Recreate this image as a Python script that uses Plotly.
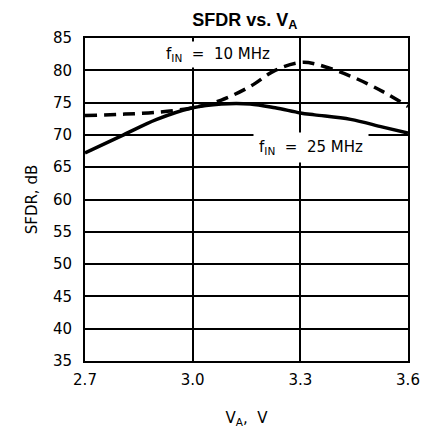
import plotly.graph_objects as go

# supply voltage, V
va = [2.70, 2.80, 2.90, 3.00, 3.08, 3.16, 3.23, 3.30, 3.34, 3.44, 3.53, 3.60]

# SFDR, dB
sfdr_10mhz = [73.0, 73.2, 73.5, 74.2, 75.4, 77.5, 80.0, 81.2, 81.0, 79.1, 76.7, 74.4]
sfdr_25mhz = [67.2, 69.8, 72.4, 74.2, 74.8, 74.8, 74.2, 73.4, 73.1, 72.4, 71.2, 70.3]

x_ticks = [2.7, 3.0, 3.3, 3.6]
y_ticks = [35, 40, 45, 50, 55, 60, 65, 70, 75, 80, 85]

fig = go.Figure()
fig.add_trace(go.Scatter(x=va, y=sfdr_10mhz, mode='lines', line_shape='spline',
                         line=dict(color='black', width=3.5, dash='12px,7px')))
fig.add_trace(go.Scatter(x=va, y=sfdr_25mhz, mode='lines', line_shape='spline',
                         line=dict(color='black', width=3.5)))

label_font = dict(family='DejaVu Sans', size=15, color='black')
fig.add_annotation(x=3.07, y=82.4, text='f<sub>IN</sub>  =  10 MHz', showarrow=False,
                   font=label_font, bgcolor='white', borderpad=3)
fig.add_annotation(x=3.33, y=68.0, text='f<sub>IN</sub>  =  25 MHz', showarrow=False,
                   font=label_font, bgcolor='white', borderpad=5)

fig.update_layout(
    width=422, height=430,
    margin=dict(l=85, r=14, t=38, b=69),
    paper_bgcolor='white', plot_bgcolor='white',
    showlegend=False,
    font=dict(family='DejaVu Sans', size=15, color='black'),
    title=dict(text='<b>SFDR vs. V<sub>A</sub></b>', x=0.58, xanchor='center',
               y=0.955, yanchor='middle',
               font=dict(family='Liberation Sans', size=18, color='black')),
)
fig.update_xaxes(range=[2.7, 3.6], tickvals=x_ticks, ticktext=['2.7', '3.0', '3.3', '3.6'],
                 showline=True, mirror=True, linecolor='black', linewidth=2,
                 showgrid=True, gridcolor='black', gridwidth=1.5, zeroline=False,
                 ticks='', ticklen=0, ticklabelstandoff=4, automargin=False,
                 title=dict(text='V<sub>A</sub>,  V', standoff=24, font=dict(size=15)))
fig.update_yaxes(range=[35, 85], tickvals=y_ticks,
                 showline=True, mirror=True, linecolor='black', linewidth=2,
                 showgrid=True, gridcolor='black', gridwidth=1.5, zeroline=False,
                 ticks='', ticklen=0, ticklabelstandoff=8, automargin=False,
                 title=dict(text='SFDR, dB', standoff=12, font=dict(size=15)))

# page body has an 8px default margin, drop it so the figure sits at 0,0
fig.write_html("out.html", config={'displayModeBar': False},
               post_script="document.body.style.margin='0';")
